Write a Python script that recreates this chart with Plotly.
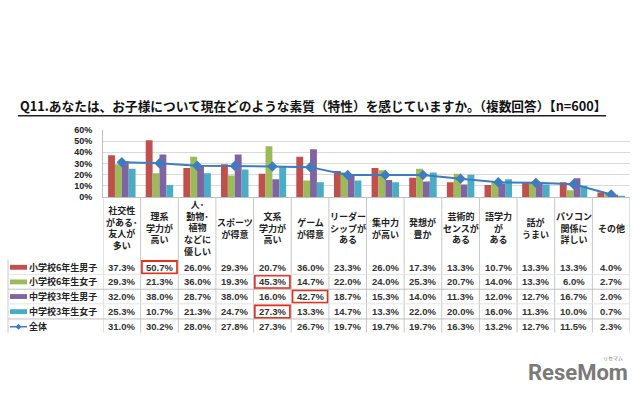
import plotly.graph_objects as go

W, H = 640, 400

categories = [
    "社交性<br>がある･<br>友人が<br>多い",
    "理系<br>学力が<br>高い",
    "人･<br>動物･<br>植物<br>などに<br>優しい",
    "スポーツ<br>が得意",
    "文系<br>学力が<br>高い",
    "ゲーム<br>が得意",
    "リーダー<br>シップが<br>ある",
    "集中力<br>が高い",
    "発想が<br>豊か",
    "芸術的<br>センスが<br>ある",
    "語学力<br>が<br>ある",
    "話が<br>うまい",
    "パソコン<br>関係に<br>詳しい",
    "その他",
]

series_names = ["小学校6年生男子", "小学校6年生女子", "中学校3年生男子", "中学校3年生女子"]
boys6 = [37.3, 50.7, 26.0, 29.3, 20.7, 36.0, 23.3, 26.0, 17.3, 13.3, 10.7, 13.3, 13.3, 4.0]
girls6 = [29.3, 21.3, 36.0, 19.3, 45.3, 14.7, 22.0, 24.0, 25.3, 20.7, 14.0, 13.3, 6.0, 2.7]
boys9 = [32.0, 38.0, 28.7, 38.0, 16.0, 42.7, 18.7, 15.3, 14.0, 11.3, 12.0, 12.7, 16.7, 2.0]
girls9 = [25.3, 10.7, 21.3, 24.7, 27.3, 13.3, 14.7, 13.3, 22.0, 20.0, 16.0, 11.3, 10.0, 0.7]
total_name = "全体"
total = [31.0, 30.2, 28.0, 27.8, 27.3, 26.7, 19.7, 19.7, 19.7, 16.3, 13.2, 12.7, 11.5, 2.3]

# highlighted cells (row index, column index)
highlights = [(0, 1), (1, 4), (2, 5), (3, 4)]

y_ticks = [0, 10, 20, 30, 40, 50, 60]

colors = ["#C0504D", "#9BBB59", "#8064A2", "#4BACC6"]
line_color = "#3E7CC0"

FONT = "Noto Sans CJK JP"
NUMFONT = "Liberation Sans"


def px(x):
    return x / W


def py(y):
    return 1 - y / H


fig = go.Figure()
xs = list(range(len(categories)))
for name, vals, c in zip(series_names, [boys6, girls6, boys9, girls9], colors):
    fig.add_trace(go.Bar(x=xs, y=vals, name=name, marker_color=c, marker_line_width=0))
fig.add_trace(go.Scatter(x=xs, y=total, name=total_name, mode="lines+markers",
                         line=dict(color=line_color, width=2),
                         marker=dict(symbol="diamond", size=8, color=line_color)))

plot_left, plot_right = 103, 630
plot_top, plot_bottom = 128, 197
table_bottom = 336

fig.update_layout(
    width=W, height=H,
    margin=dict(l=0, r=0, t=0, b=0),
    paper_bgcolor="white", plot_bgcolor="white",
    showlegend=False,
    barmode="group", bargap=0.27, bargroupgap=0,
    font=dict(family=FONT, color="#222"),
    xaxis=dict(domain=[px(plot_left), px(plot_right)], range=[-0.5, len(categories) - 0.5],
               showticklabels=False, showgrid=False, zeroline=False,
               showline=True, linecolor="#BFBFBF", linewidth=1, ticks=""),
    yaxis=dict(domain=[py(plot_bottom), py(plot_top)], range=[0, 60],
               tickvals=y_ticks, ticktext=[f"<b>{v}%</b>" for v in y_ticks],
               tickfont=dict(size=9, color="#222", family=NUMFONT),
               showgrid=True, gridcolor="#D9D9D9", gridwidth=1, zeroline=False,
               showline=True, linecolor="#BFBFBF", linewidth=1, ticks="", ticklabelstandoff=8),
)

annotations = []
shapes = []

# Title
title = "Q11.あなたは、お子様について現在どのような素質（特性）を感じていますか。（複数回答）【n=600】"
annotations.append(dict(text=f"<b>{title}</b>", xref="paper", yref="paper", x=px(18), y=py(103),
                        xanchor="left", yanchor="middle", showarrow=False,
                        font=dict(size=12.7, color="#111", family=FONT)))
shapes.append(dict(type="line", xref="paper", yref="paper", x0=px(18), x1=px(606), y0=py(113.5), y1=py(113.5),
                   line=dict(color="#222", width=1.5)))

# Category header labels
for i, c in enumerate(categories):
    annotations.append(dict(text=f"<b>{c}</b>", xref="x", yref="paper", x=i, y=py(229),
                            xanchor="center", yanchor="middle", showarrow=False,
                            font=dict(size=9, color="#222", family=FONT)))

# Table rows
row_y = [269, 284, 299, 314.5, 330]
all_rows = [boys6, girls6, boys9, girls9, total]
row_names = series_names + [total_name]
for r, (vals, name) in enumerate(zip(all_rows, row_names)):
    yy = py(row_y[r])
    for i, v in enumerate(vals):
        annotations.append(dict(text=f"<b>{v:.1f}%</b>", xref="x", yref="paper", x=i, y=yy,
                                xanchor="center", yanchor="middle", showarrow=False,
                                font=dict(size=9.5, color="#333", family=NUMFONT)))
    annotations.append(dict(text=f"<b>{name}</b>", xref="paper", yref="paper", x=px(27), y=yy,
                            xanchor="left", yanchor="middle", showarrow=False,
                            font=dict(size=9, color="#222", family=FONT)))
    if r < 4:
        shapes.append(dict(type="rect", xref="paper", yref="paper", x0=px(10), x1=px(27),
                           y0=py(row_y[r] + 2.5), y1=py(row_y[r] - 2.5),
                           fillcolor=colors[r], line=dict(width=0)))
    else:
        shapes.append(dict(type="line", xref="paper", yref="paper", x0=px(10), x1=px(27),
                           y0=yy, y1=yy, line=dict(color=line_color, width=1.5)))
        cx, cy = 18.5, row_y[r]
        shapes.append(dict(type="path", xref="paper", yref="paper",
                           path=f"M {px(cx-3)} {py(cy)} L {px(cx)} {py(cy-3)} L {px(cx+3)} {py(cy)} L {px(cx)} {py(cy+3)} Z",
                           fillcolor=line_color, line=dict(width=0)))

# Red highlight boxes
for r, c in highlights:
    shapes.append(dict(type="rect", xref="x", yref="paper", x0=c - 0.47, x1=c + 0.47,
                       y0=py(row_y[r] + 6.5), y1=py(row_y[r] - 6.5),
                       line=dict(color="#E2321E", width=2), fillcolor="rgba(0,0,0,0)"))

# Table grid lines
for i in range(len(categories) + 1):
    shapes.append(dict(type="line", xref="x", yref="paper", x0=i - 0.5, x1=i - 0.5,
                       y0=py(plot_bottom), y1=py(table_bottom),
                       line=dict(color="#C8C8C8", width=1)))
shapes.append(dict(type="line", xref="paper", yref="paper", x0=px(8), x1=px(8),
                   y0=py(261), y1=py(table_bottom), line=dict(color="#C8C8C8", width=1)))
for yline, col in [(276.5, "#E4E4E4"), (291.5, "#BFBFBF"), (306.5, "#E4E4E4"), (322, "#BFBFBF")]:
    shapes.append(dict(type="line", xref="paper", yref="paper", x0=px(8), x1=px(plot_right),
                       y0=py(yline), y1=py(yline), line=dict(color=col, width=1)))

# Watermark
annotations.append(dict(text="<b>ReseMom</b>", xref="paper", yref="paper", x=px(578), y=py(377),
                        xanchor="center", yanchor="middle", showarrow=False,
                        font=dict(size=22, color="#7A7A7A", family="Roboto")))
annotations.append(dict(text="リセマム", xref="paper", yref="paper", x=px(613), y=py(362),
                        xanchor="center", yanchor="middle", showarrow=False,
                        font=dict(size=5, color="#7A7A7A", family=FONT)))

fig.update_layout(annotations=annotations, shapes=shapes)
fig.write_html("out.html", config={"displayModeBar": False},
               post_script="document.body.style.margin='0';document.body.style.overflow='hidden';")
